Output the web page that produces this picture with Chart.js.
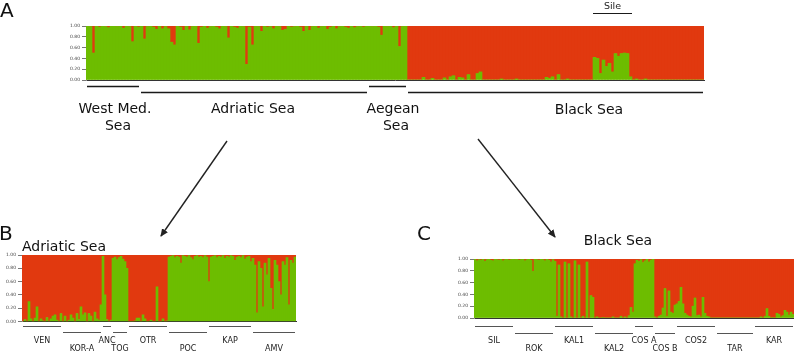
<!DOCTYPE html>
<html>
<head>
<meta charset="utf-8">
<script src="https://cdn.jsdelivr.net/npm/chart.js@4.4.0/dist/chart.umd.min.js"></script>
<style>
  html, body { margin: 0; padding: 0; background: #fff; }
  #wrap { position: relative; width: 794px; height: 351px; overflow: hidden; font-family: "DejaVu Sans", sans-serif; color: #111; }
  canvas, svg { position: absolute; left: 0; top: 0; }
  .lbl { position: absolute; white-space: nowrap; font-size: 14px; line-height: 14px; transform: translateX(-50%); }
  .left { transform: none; }
  .big { position: absolute; font-size: 20px; line-height: 20px; }
</style>
</head>
<body>
<div id="wrap">
  <canvas id="chartA" width="794" height="351"></canvas>
  <canvas id="chartB" width="794" height="351"></canvas>
  <canvas id="chartC" width="794" height="351"></canvas>
  <svg width="794" height="351">
    <defs>
      <marker id="head" markerWidth="8" markerHeight="8" refX="7" refY="4" orient="auto" markerUnits="userSpaceOnUse">
        <path d="M0,0.5 L8,4 L0,7.5 z" fill="#222"/>
      </marker>
    </defs>
    <line x1="227" y1="141" x2="161" y2="236" stroke="#222" stroke-width="1.4" marker-end="url(#head)"/>
    <line x1="478" y1="139" x2="555" y2="237" stroke="#222" stroke-width="1.4" marker-end="url(#head)"/>
  </svg>
  <div class="big" style="left:0px;top:0px">A</div>
  <div class="big" style="left:-1px;top:223px">B</div>
  <div class="big" style="left:417px;top:223px">C</div>
  <div class="lbl" style="left:115px;top:101px">West Med.</div>
  <div class="lbl" style="left:118px;top:118px">Sea</div>
  <div class="lbl" style="left:253px;top:101px">Adriatic Sea</div>
  <div class="lbl" style="left:393px;top:101px">Aegean</div>
  <div class="lbl" style="left:396px;top:118px">Sea</div>
  <div class="lbl" style="left:589px;top:102px">Black Sea</div>
  <div class="lbl left" style="left:22px;top:239px">Adriatic Sea</div>
  <div class="lbl" style="left:618px;top:233px">Black Sea</div>
</div>
<script>
const GREEN = '#6dbd00';
const RED = '#e1390f';
const FONT = "'DejaVu Sans', sans-serif";

// panel A: share of the green cluster (%) per individual
const westMedGreen = [100,99,50,100,98,100,99,97,100,100,99,100,96,100,99,71,100,98];
const adriaticGreen = [100,76,99,100,98,94,100,95,99,95,70,65,100,98,92,100,93,99,100,68,
  98,100,96,99,100,98,95,100,99,78,100,98,96,100,99,29,98,65,100,99,
  90,100,98,99,95,100,99,92,94,100,98,99,100,98,90,100,92,99,100,96,
  99,100,94,98,100,95,99,100,98,96,100,97,99,100,98,100];
const aegeanGreen = [100,99,100,98,83,100,99,100,97,100,62,99,100];
const blackSeaGreen = [0,0,0,0,0,5,0,0,3,0, 0,0,4,0,6,8,0,5,4,0,
  10,0,0,12,15,0,0,0,0,0, 0,2,0,0,0,0,2,0,0,0, 0,0,0,0,0,0,5,3,6,0,
  10,0,0,2,0,0,0,0,0,0, 0,0,42,40,12,37,25,31,15,49, 44,49,50,49,6,0,2,0,0,2,
  0,0,0,0,0,0,0,0,0,0, 0,0,0,0,0,0,0,0,0];
const sileInBlackSea = [62, 74];
const regionsA = ['West Med. Sea', 'Adriatic Sea', 'Aegean Sea', 'Black Sea'];

// panel B: Adriatic Sea populations
const popsB = ['VEN', 'KOR-A', 'ANC', 'TOG', 'OTR', 'POC', 'KAP', 'AMV'];
const venGreen = [0,3,0,30,4,0,5,22,0,4,1,0,6,0,4,8,10,2,0,12];
const korGreen = [0,8,0,2,10,5,0,12,3,22,10,13,0,12,8,0,14,4,2,25];
const ancGreen = [98,40,3,0,2];
const togGreen = [95,97,93,96,98,94,90,80];
const otrGreen = [0,0,0,1,5,5,0,10,4,0,0,2,0,0,52,0,0,4,0,1];
const pocGreen = [97,98,99,96,98,97,88,99,98,97,99,96,93,98,99,97,98,96,99,97];
const kapGreen = [60,97,98,99,96,98,97,99,95,98,97,99,98,92,97,98,96,99,94,97,98,90];
const amvGreen = [95,85,13,90,80,22,88,70,95,50,18,92,85,60,40,90,85,96,25,92,88,97];

// panel C: Black Sea populations
const popsC = ['SIL', 'ROK', 'KAL1', 'KAL2', 'COS A', 'COS B', 'COS2', 'TAR', 'KAR'];
const silGreen = [100,97,99,98,100,96,99,100,98,97,100,99,98,100,97,99,100,98,99,100];
const rokGreen = [99,100,98,99,100,97,99,100,98,79,100,99,98,100,99,97,100,98,95,99];
const kal1Green = [96,3,90,2,0,95,0,92,2,0,97,0,90,0,3,0,95,0,38,35];
const kal2Green = [0,2,0,0,1,0,0,0,0,2,0,0,0,3,0,2,0,4,18,10];
const cosAGreen = [92,98,96,99,94,97,100,95,98,100];
const cosBGreen = [2,0,3,5,17,50,3,46,10,8,22];
const cos2Green = [24,28,52,24,8,5,3,2,20,34,4,5,2,35,8,3,2,0,0,0];
const tarGreen = [0,0,0,0,0,0,0,0,0,0,0,0,0,0,0,0,0,0,0];
const karGreen = [0,0,0,2,0,3,16,3,0,1,0,8,6,2,4,13,10,5,10,6];

function makeGroups(names, arrays) {
  let start = 0;
  return names.map((name, i) => {
    const g = { text: name, from: start, to: start + arrays[i].length - 1, row: i % 2 };
    start += arrays[i].length;
    return g;
  });
}

// lines (and labels) under each group of individuals
const groupLines = {
  id: 'groupLines',
  afterDraw(chart, args, opts) {
    const ctx = chart.ctx;
    const xs = chart.scales.x;
    const half = xs.width / chart.data.labels.length / 2;
    ctx.save();
    ctx.textAlign = 'center';
    ctx.textBaseline = 'alphabetic';
    ctx.strokeStyle = opts.color;
    ctx.lineWidth = opts.width;
    opts.groups.forEach(g => {
      const x1 = xs.getPixelForValue(g.from) - half + 1;
      const x2 = xs.getPixelForValue(g.to) + half - 1;
      const ly = opts.lineY[g.row];
      ctx.beginPath();
      ctx.moveTo(x1, ly);
      ctx.lineTo(x2, ly);
      ctx.stroke();
      if (opts.showText) {
        ctx.font = opts.font;
        ctx.fillStyle = '#222';
        ctx.fillText(g.text, (x1 + x2) / 2, opts.textY[g.row]);
      }
    });
    if (opts.marker) {
      const m = opts.marker;
      const x1 = xs.getPixelForValue(m.from) - half;
      const x2 = xs.getPixelForValue(m.to) + half;
      ctx.lineWidth = 1.2;
      ctx.beginPath();
      ctx.moveTo(x1, m.y);
      ctx.lineTo(x2, m.y);
      ctx.stroke();
      ctx.font = m.font;
      ctx.fillStyle = '#222';
      ctx.fillText(m.text, (x1 + x2) / 2, m.ty);
    }
    ctx.restore();
  }
};

function structurePlot(id, greens, pad, lineOpts) {
  return new Chart(document.getElementById(id), {
    type: 'bar',
    data: {
      labels: greens.map((_, i) => i),
      datasets: [
        { label: 'cluster 1', data: greens.map(v => v / 100), backgroundColor: GREEN },
        { label: 'cluster 2', data: greens.map(v => 1 - v / 100), backgroundColor: RED }
      ]
    },
    options: {
      responsive: false,
      animation: false,
      layout: { padding: pad },
      datasets: { bar: { barPercentage: 1, categoryPercentage: 1, borderWidth: 0 } },
      plugins: {
        legend: { display: false },
        tooltip: { enabled: false },
        groupLines: lineOpts
      },
      scales: {
        x: {
          stacked: true,
          ticks: { display: false },
          grid: { display: false },
          border: { color: '#333', width: 1 },
          afterFit(s) { s.height = 0; }
        },
        y: {
          stacked: true,
          min: 0,
          max: 1,
          ticks: {
            stepSize: 0.2,
            color: '#444',
            padding: 2,
            font: { family: FONT, size: 4.5 },
            callback: v => v.toFixed(2)
          },
          grid: { drawOnChartArea: false, tickLength: 4, color: '#777' },
          border: { color: '#999', width: 1 },
          afterFit(s) { s.width = 16; }
        }
      }
    },
    plugins: [groupLines]
  });
}

// panel A
const arraysA = [westMedGreen, adriaticGreen, aegeanGreen, blackSeaGreen];
const groupsA = makeGroups(regionsA, arraysA);
const sileStart = groupsA[3].from;
structurePlot('chartA', [].concat(...arraysA),
  { left: 70, top: 26, right: 90, bottom: 271 },
  {
    groups: groupsA, lineY: [86.5, 92.5], color: '#1a1a1a', width: 1.3, showText: false,
    marker: { from: sileStart + sileInBlackSea[0], to: sileStart + sileInBlackSea[1],
      y: 13.5, ty: 8.5, text: 'Sile', font: "9.5px " + FONT }
  });

// panel B
const arraysB = [venGreen, korGreen, ancGreen, togGreen, otrGreen, pocGreen, kapGreen, amvGreen];
structurePlot('chartB', [].concat(...arraysB),
  { left: 6, top: 255, right: 498, bottom: 29.5 },
  {
    groups: makeGroups(popsB, arraysB), lineY: [326.5, 332.5], textY: [342.5, 350.5],
    color: '#555', width: 1, showText: true, font: "8px " + FONT
  });

// panel C
const arraysC = [silGreen, rokGreen, kal1Green, kal2Green, cosAGreen, cosBGreen, cos2Green, tarGreen, karGreen];
structurePlot('chartC', [].concat(...arraysC),
  { left: 458, top: 259, right: 0, bottom: 33 },
  {
    groups: makeGroups(popsC, arraysC), lineY: [326.5, 333.5], textY: [342.5, 350.5],
    color: '#555', width: 1, showText: true, font: "8px " + FONT
  });
</script>
</body>
</html>
